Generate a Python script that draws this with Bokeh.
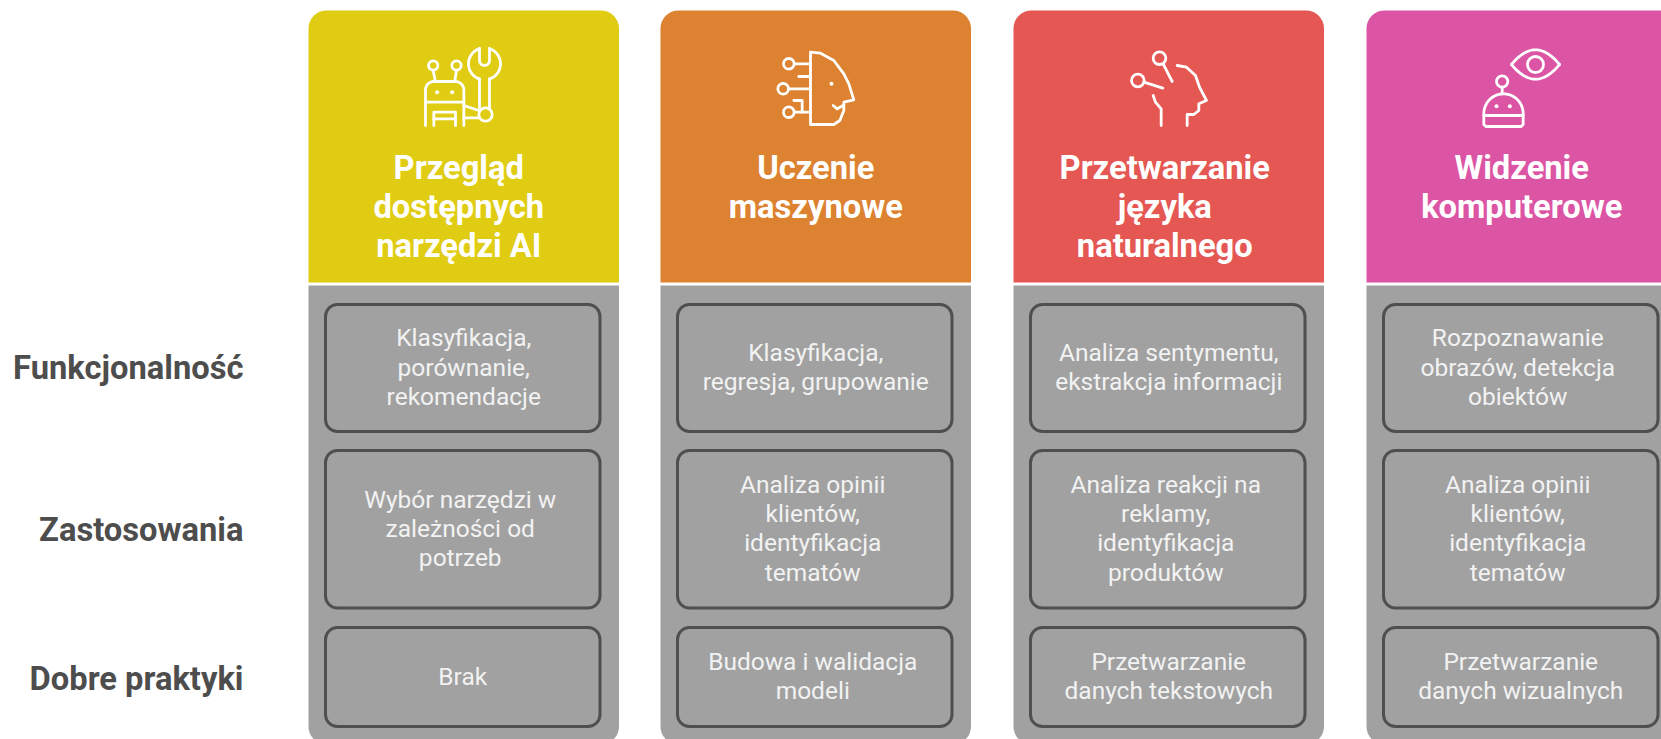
import numpy as np
from bokeh.plotting import figure
from bokeh.core.properties import value
from bokeh.embed import file_html
from bokeh.resources import INLINE

# ---- content ----
headers = [
    ["Przegląd", "dostępnych", "narzędzi AI"],
    ["Uczenie", "maszynowe"],
    ["Przetwarzanie", "języka", "naturalnego"],
    ["Widzenie", "komputerowe"],
]
header_colors = ["#DFCC13", "#DC8230", "#E55752", "#DC55A5"]
row_labels = ["Funkcjonalność", "Zastosowania", "Dobre praktyki"]
funkcjonalnosc = [
    ["Klasyfikacja,", "porównanie,", "rekomendacje"],
    ["Klasyfikacja,", "regresja, grupowanie"],
    ["Analiza sentymentu,", "ekstrakcja informacji"],
    ["Rozpoznawanie", "obrazów, detekcja", "obiektów"],
]
zastosowania = [
    ["Wybór narzędzi w", "zależności od", "potrzeb"],
    ["Analiza opinii", "klientów,", "identyfikacja", "tematów"],
    ["Analiza reakcji na", "reklamy,", "identyfikacja", "produktów"],
    ["Analiza opinii", "klientów,", "identyfikacja", "tematów"],
]
dobre_praktyki = [
    ["Brak"],
    ["Budowa i walidacja", "modeli"],
    ["Przetwarzanie", "danych tekstowych"],
    ["Przetwarzanie", "danych wizualnych"],
]
rows = [funkcjonalnosc, zastosowania, dobre_praktyki]

# ---- layout (page pixels of the reference) ----
W, H = 1661, 739
col_left = [308, 660, 1013, 1366]
col_w = 310.5
head_top, head_bot, gray_top, gray_bot = 10, 282, 285, 744
box_pad_l, box_pad_r = 17, 19
box_tops = [304, 450, 627]
box_bots = [431, 607.5, 726]
head_dx = [-5, 0, -4, 0]
body_dx = [[0, 0, 0, -4], [-3.5, -3, -3, -4], [-1, -3, 0, -1]]
GRAY, STROKE = "#A1A1A1", "#4F4F4F"

p = figure(width=W, height=H, x_range=(0, W), y_range=(H, 0),
           output_backend="svg", toolbar_location=None, min_border=0)
p.xaxis.visible = False
p.yaxis.visible = False
p.xgrid.visible = False
p.ygrid.visible = False
p.outline_line_color = None
p.background_fill_color = "white"

right = [x + col_w for x in col_left]
p.quad(left=col_left, right=right, top=[head_top] * 4, bottom=[head_bot] * 4,
       fill_color=header_colors, line_color=None, border_radius=(18, 18, 0, 0))
p.quad(left=col_left, right=right, top=[gray_top] * 4, bottom=[gray_bot] * 4,
       fill_color=GRAY, line_color=None, border_radius=(0, 0, 18, 18))
for t, b in zip(box_tops, box_bots):
    p.quad(left=[x + box_pad_l for x in col_left], right=[x + col_w - box_pad_r for x in col_left],
           top=[t] * 4, bottom=[b] * 4, fill_color=GRAY, line_color=STROKE,
           line_width=3, border_radius=12)

# ---- text ----
hx, hy, ht = [], [], []
for c, (x, lines) in enumerate(zip(right, headers)):
    for i, s in enumerate(lines):
        hx.append(x - col_w / 2 + head_dx[c])
        hy.append(167.5 + 39.2 * i)
        ht.append(s)
p.text(hx, hy, ht, text_font=value("Roboto"), text_font_style="bold", text_font_size="32.7px",
       text_color="white", text_align="center", text_baseline="alphabetic")

bx, by, bt = [], [], []
LH = 29.2
for r, (t, b) in enumerate(zip(box_tops, box_bots)):
    for c, (x, lines) in enumerate(zip(right, rows[r])):
        y0 = (t + b) / 2 - LH * (len(lines) - 1) / 2 - 1
        for i, s in enumerate(lines):
            bx.append(x - col_w / 2 + body_dx[r][c])
            by.append(y0 + LH * i)
            bt.append(s)
p.text(bx, by, bt, text_font=value("Roboto"), text_font_size="24.5px",
       text_color="#F2F2F2", text_align="center", text_baseline="alphabetic")

label_y = [367, 529, 678]
p.text([243] * 3, label_y, row_labels, text_font=value("Roboto"), text_font_style="bold",
       text_font_size="32.7px", text_color="#4D4D4D", text_align="right", text_baseline="middle")

# ---- icons: strokes given in zoom-crop units (1/3 px) ----
def arc(cx, cy, r, a0, a1, n=24):
    a = np.radians(np.linspace(a0, a1, n))
    return list(cx + r * np.cos(a)), list(cy + r * np.sin(a))

def add_icon(ox, oy, strokes, circles, dots):
    xs = [[ox + v / 3 for v in s[0]] for s in strokes]
    ys = [[oy + v / 3 for v in s[1]] for s in strokes]
    p.multi_line(xs, ys, line_color="white", line_width=2.8, line_cap="round", line_join="round")
    if circles:
        p.circle([ox + c[0] / 3 for c in circles], [oy + c[1] / 3 for c in circles],
                 radius=[c[2] / 3 for c in circles], fill_color=None,
                 line_color="white", line_width=2.8)
    if dots:
        p.circle([ox + d[0] / 3 for d in dots], [oy + d[1] / 3 for d in dots], radius=2,
                 fill_color="white", line_color=None)

# robot + wrench
hx1, hy1 = arc(252, 100, 48, -72, 72)
hx2, hy2 = arc(252, 100, 48, 108, 252)
jx, jy = arc(252, 90, 15, 0, 180, 14)
a1x, a1y = arc(100, 178, 25, 180, 270, 8)
a2x, a2y = arc(165, 178, 25, 270, 360, 8)
add_icon(400, 30, [
    ([98, 104], [120, 150]), ([168, 163], [120, 150]),
    ([75] + a1x + a2x + [190], [285] + a1y + a2y + [285]),
    ([75, 190], [215, 215]),
    ([100, 100, 165, 165], [285, 245, 245, 285]), ([100, 165], [265, 265]),
    ([190, 235], [225, 240]), ([190, 235], [262, 262]),
    ([237, 237], [145, 232]), ([267, 267], [145, 232]),
    (hx1, hy1), (hx2, hy2),
    ([267] + jx + [237], [54] + jy + [54]),
], [(98, 105, 14), (168, 105, 14), (255, 252, 20)], [(110, 185), (155, 185)])

# face with circuits
add_icon(720, 20, [
    ([270, 270, 300, 340, 370, 385, 400, 370, 370, 358, 340, 270],
     [312, 95, 98, 120, 160, 190, 238, 245, 270, 300, 312, 312]),
    ([338, 350, 368], [255, 265, 255]),
    ([222, 270], [130, 130]), ([205, 270], [205, 205]), ([222, 270], [275, 275]),
    ([235, 270], [168, 168]), ([220, 245, 245], [240, 240, 275]),
], [(205, 130, 16), (188, 205, 16), (205, 275, 16)], [(333, 190)])

# head with pins
add_icon(1100, 30, [
    ([188, 215], [100, 153]), ([130, 187], [155, 173]),
    ([230, 258, 285, 297, 318, 295, 295, 280, 260, 260],
     [105, 110, 135, 170, 210, 220, 240, 252, 252, 285]),
    ([158, 165, 182, 182], [195, 215, 235, 285]),
], [(177, 83, 19), (112, 150, 19)], [])

# robot + eye
ex = np.linspace(183, 327, 25)
eu = (ex - 255) / 72
et = 102 - 44 * (1 - eu ** 2)
eb = 102 + 44 * (1 - eu ** 2)
dx, dy = arc(159, 249, 59, 180, 360)
add_icon(1450, 30, [
    (list(ex), list(et)), (list(ex), list(eb)),
    ([155, 155], [170, 190]),
    ([100] + dx + [218, 212, 106, 100], [282] + dy + [282, 288, 288, 282]),
    ([100, 218], [255, 255]),
], [(255, 102, 24), (155, 153, 17)], [(138, 227), (178, 227)])

open("out.html", "w").write(file_html(p, INLINE))
